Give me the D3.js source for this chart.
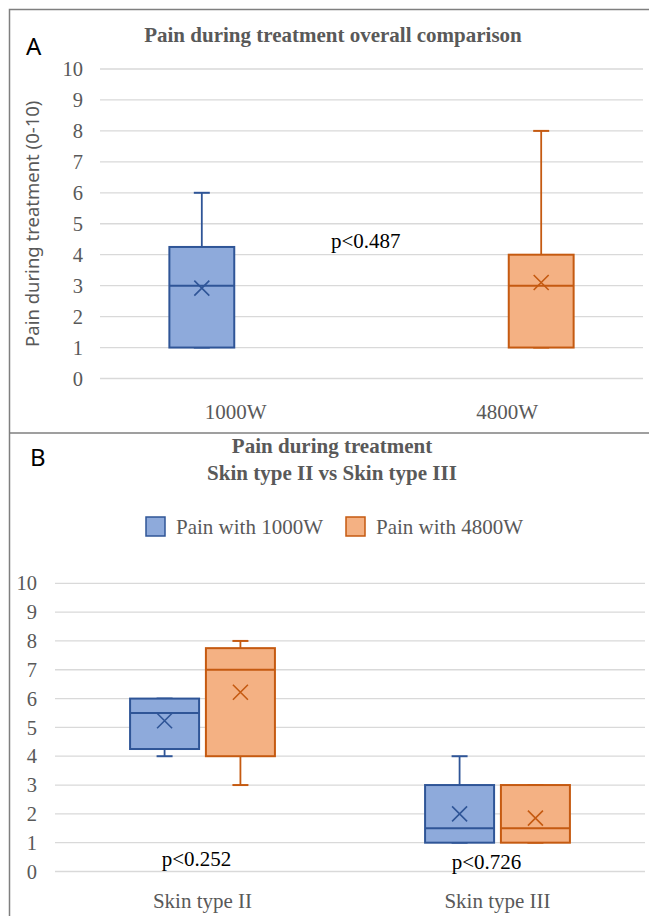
<!DOCTYPE html>
<html>
<head>
<meta charset="utf-8">
<script src="https://cdn.jsdelivr.net/npm/d3@7"></script>
<style>
  html, body { margin: 0; padding: 0; background: #fff; }
  svg { display: block; }
</style>
</head>
<body>
<div id="chart"></div>
<script>
"use strict";

// ticks shared by both panels
var yTicks = [0, 1, 2, 3, 4, 5, 6, 7, 8, 9, 10];

// panel A : overall comparison
var overallGroups = ["1000W", "4800W"];
var overallMin = [1, 1];
var overallQ1 = [1, 1];
var overallMedian = [3, 3];
var overallQ3 = [4.25, 4];
var overallMax = [6, 8];
var overallMean = [2.92, 3.1];
var overallP = "p<0.487";

// panel B : skin type II vs III
var skinTypes = ["Skin type II", "Skin type III"];
var powerSeries = ["Pain with 1000W", "Pain with 4800W"];
var min1000 = [4, 1];
var q1_1000 = [4.25, 1];
var median1000 = [5.5, 1.5];
var q3_1000 = [6, 3];
var max1000 = [6, 4];
var mean1000 = [5.23, 2.0];
var min4800 = [3, 1];
var q1_4800 = [4, 1];
var median4800 = [7, 1.5];
var q3_4800 = [7.75, 3];
var max4800 = [8, 3];
var mean4800 = [6.22, 1.85];
var skinP = ["p<0.252", "p<0.726"];

var fills = ["#8eaadb", "#f4b183"];
var strokes = ["#2f5597", "#c55a11"];
var gridColor = "#d9d9d9";
var textColor = "#595959";
var serif = "Liberation Serif, Times New Roman, serif";
var sans = "Noto Sans, Open Sans, sans-serif";

var W = 649, H = 916;
var svg = d3.select("#chart").append("svg")
	.attr("width", W)
	.attr("height", H);

svg.append("rect").attr("width", W).attr("height", H).attr("fill", "#fff");

// frame lines
var frame = svg.append("g").attr("stroke", "#7f7f7f").attr("stroke-width", 1.5).attr("fill", "none");
frame.append("path").attr("d", "M9.5," + H + "V9.5H" + W);
frame.append("path").attr("d", "M9.5,433H" + W);

// small helper so every label gets its font the same way
function label(sel, family, size, weight) {
	return sel.attr("font-family", family)
		.attr("font-size", size)
		.attr("font-weight", weight || "normal");
}

function drawGrid(g, y, x0, x1) {
	g.append("g")
		.selectAll("line")
		.data(yTicks)
		.enter().append("line")
		.attr("x1", x0).attr("x2", x1)
		.attr("y1", function(d) { return y(d); })
		.attr("y2", function(d) { return y(d); })
		.attr("stroke", gridColor)
		.attr("stroke-width", 1.3);
}

function drawYLabels(g, y, xRight) {
	var t = g.append("g")
		.selectAll("text")
		.data(yTicks)
		.enter().append("text")
		.attr("x", xRight)
		.attr("y", function(d) { return y(d); })
		.attr("dy", "0.35em")
		.attr("text-anchor", "end")
		.attr("fill", textColor)
		.text(function(d) { return d; });
	label(t, serif, 20.5);
}

// one box with whiskers, median and mean cross
function drawBox(g, y, cx, bw, s, i) {
	var box = g.append("g");
	var cap = 8;
	box.append("line")
		.attr("x1", cx).attr("x2", cx)
		.attr("y1", y(s.q3)).attr("y2", y(s.max))
		.attr("stroke", strokes[i]).attr("stroke-width", 1.8);
	box.append("line")
		.attr("x1", cx).attr("x2", cx)
		.attr("y1", y(s.q1)).attr("y2", y(s.min))
		.attr("stroke", strokes[i]).attr("stroke-width", 1.8);
	[s.max, s.min].forEach(function(v) {
		box.append("line")
			.attr("x1", cx - cap).attr("x2", cx + cap)
			.attr("y1", y(v)).attr("y2", y(v))
			.attr("stroke", strokes[i]).attr("stroke-width", 2);
	});
	box.append("rect")
		.attr("x", cx - bw / 2)
		.attr("y", y(s.q3))
		.attr("width", bw)
		.attr("height", y(s.q1) - y(s.q3))
		.attr("fill", fills[i])
		.attr("stroke", strokes[i])
		.attr("stroke-width", 2);
	box.append("line")
		.attr("x1", cx - bw / 2).attr("x2", cx + bw / 2)
		.attr("y1", y(s.median)).attr("y2", y(s.median))
		.attr("stroke", strokes[i]).attr("stroke-width", 2);
	var m = 7.5, my = y(s.mean);
	box.append("path")
		.attr("d", "M" + (cx - m) + "," + (my - m) + "L" + (cx + m) + "," + (my + m) +
			"M" + (cx + m) + "," + (my - m) + "L" + (cx - m) + "," + (my + m))
		.attr("stroke", strokes[i]).attr("stroke-width", 1.6).attr("fill", "none");
}

// ---------------- panel A ----------------
var gA = svg.append("g");
var yA = d3.scaleLinear().domain([0, 10]).range([378.5, 69]);
var xA = d3.scaleBand().domain(overallGroups).range([100, 643]);
var xBoxA = d3.scaleBand().domain(overallGroups).range([100, 643]).paddingInner(0.8).paddingOuter(0.2);

label(gA.append("text"), sans, 24)
	.attr("x", 26).attr("y", 55)
	.attr("fill", "#000")
	.text("A");

label(gA.append("text"), serif, 21, "bold")
	.attr("x", 333).attr("y", 42)
	.attr("text-anchor", "middle")
	.attr("fill", textColor)
	.text("Pain during treatment overall comparison");

drawGrid(gA, yA, 100, 643);
drawYLabels(gA, yA, 83);

label(gA.append("text"), sans, 18.5)
	.attr("transform", "translate(39," + yA(5) + ") rotate(-90)")
	.attr("text-anchor", "middle")
	.attr("fill", textColor)
	.text("Pain during treatment (0-10)");

label(gA.append("g")
	.selectAll("text")
	.data(overallGroups)
	.enter().append("text"), serif, 21)
	.attr("x", function(d) { return xA(d) + xA.bandwidth() / 2; })
	.attr("y", 419)
	.attr("text-anchor", "middle")
	.attr("fill", textColor)
	.text(function(d) { return d; });

overallGroups.forEach(function(d, i) {
	drawBox(gA, yA, xBoxA(d) + xBoxA.bandwidth() / 2, xBoxA.bandwidth() - 3, {
		min: overallMin[i], q1: overallQ1[i], median: overallMedian[i],
		q3: overallQ3[i], max: overallMax[i], mean: overallMean[i]
	}, i);
});

label(gA.append("text"), serif, 21)
	.attr("x", 331).attr("y", yA(4.45))
	.attr("dy", "0.35em")
	.attr("fill", "#000")
	.text(overallP);

// ---------------- panel B ----------------
var gB = svg.append("g");
var yB = d3.scaleLinear().domain([0, 10]).range([871.5, 583.3]);
var x0 = d3.scaleBand().domain(skinTypes).range([55, 645]);
var x1 = d3.scaleBand().domain(powerSeries).range([0, x0.bandwidth()]).paddingInner(0.09).paddingOuter(0.99);

label(gB.append("text"), sans, 24)
	.attr("x", 30).attr("y", 466)
	.attr("fill", "#000")
	.text("B");

label(gB.append("text"), serif, 21, "bold")
	.attr("x", 332).attr("y", 453)
	.attr("text-anchor", "middle")
	.attr("fill", textColor)
	.text("Pain during treatment");
label(gB.append("text"), serif, 21, "bold")
	.attr("x", 332).attr("y", 480)
	.attr("text-anchor", "middle")
	.attr("fill", textColor)
	.text("Skin type II vs Skin type III");

// legend
var legendX = [146, 346];
var legend = gB.selectAll(".legend")
	.data(powerSeries)
	.enter().append("g")
	.attr("class", "legend")
	.attr("transform", function(d, i) { return "translate(" + legendX[i] + ",517)"; });
legend.append("rect")
	.attr("width", 19).attr("height", 19)
	.attr("fill", function(d, i) { return fills[i]; })
	.attr("stroke", function(d, i) { return strokes[i]; })
	.attr("stroke-width", 1.5);
label(legend.append("text"), serif, 21)
	.attr("x", 30).attr("y", 10)
	.attr("dy", "0.35em")
	.attr("fill", textColor)
	.text(function(d) { return d; });

drawGrid(gB, yB, 55, 645);
drawYLabels(gB, yB, 37);

label(gB.append("g")
	.selectAll("text")
	.data(skinTypes)
	.enter().append("text"), serif, 21)
	.attr("x", function(d) { return x0(d) + x0.bandwidth() / 2; })
	.attr("y", 908)
	.attr("text-anchor", "middle")
	.attr("fill", textColor)
	.text(function(d) { return d; });

var seriesStats = [
	{min: min1000, q1: q1_1000, median: median1000, q3: q3_1000, max: max1000, mean: mean1000},
	{min: min4800, q1: q1_4800, median: median4800, q3: q3_4800, max: max4800, mean: mean4800}
];

skinTypes.forEach(function(cat, c) {
	powerSeries.forEach(function(ser, i) {
		var st = seriesStats[i];
		drawBox(gB, yB, x0(cat) + x1(ser) + x1.bandwidth() / 2, x1.bandwidth(), {
			min: st.min[c], q1: st.q1[c], median: st.median[c],
			q3: st.q3[c], max: st.max[c], mean: st.mean[c]
		}, i);
	});
});

// p values under each group
var pY = [0.45, 0.35];
label(gB.append("g")
	.selectAll("text")
	.data(skinP)
	.enter().append("text"), serif, 21)
	.attr("x", function(d, i) { return x0(skinTypes[i]) + x0.bandwidth() / 2 - (i ? 11 : 6); })
	.attr("y", function(d, i) { return yB(pY[i]); })
	.attr("dy", "0.35em")
	.attr("text-anchor", "middle")
	.attr("fill", "#000")
	.text(function(d) { return d; });
</script>
</body>
</html>
